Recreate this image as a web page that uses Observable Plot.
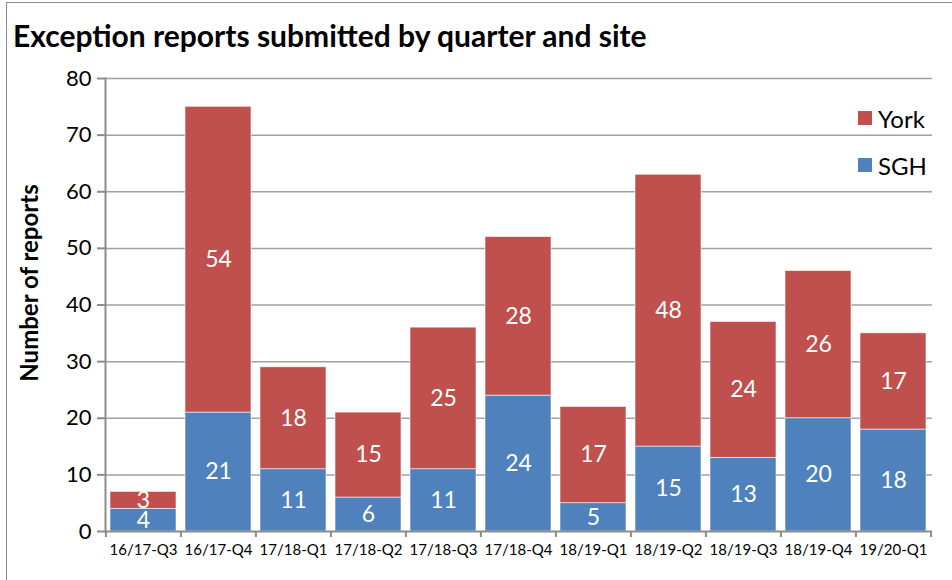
<!DOCTYPE html>
<html>
<head>
<meta charset="utf-8">
<script src="https://cdn.jsdelivr.net/npm/d3@7"></script>
<script src="https://cdn.jsdelivr.net/npm/@observablehq/plot@0.6"></script>
<style>
  html, body { margin: 0; padding: 0; background: #fff; }
  #wrap { position: relative; width: 952px; height: 580px; overflow: hidden; font-family: Lato, "Open Sans", sans-serif; }
  #frame { position: absolute; left: 6px; top: 2px; width: 1000px; height: 1000px; border-left: 1.5px solid #8c8c8c; border-top: 1.5px solid #8c8c8c; pointer-events: none; }
  #title { height: 60px; position: relative; }
  #title span { position: absolute; left: 13px; top: 20px; font-size: 30px; font-weight: 700; line-height: 1; color: #000; white-space: nowrap; }
  #legend { position: absolute; left: 858px; top: 104px; font-size: 24px; color: #000; }
  #legend div { display: flex; align-items: center; height: 28px; margin-bottom: 19px; }
  #legend i { display: inline-block; width: 14px; height: 14px; margin-right: 6px; }
  svg { display: block; }
</style>
</head>
<body>
<div id="wrap">
  <div id="title"><span>Exception reports submitted by quarter and site</span></div>
  <div id="chart"></div>
  <div id="legend"></div>
  <div id="frame"></div>
</div>
<script>
const quarters = ["16/17-Q3","16/17-Q4","17/18-Q1","17/18-Q2","17/18-Q3","17/18-Q4","18/19-Q1","18/19-Q2","18/19-Q3","18/19-Q4","19/20-Q1"];
const sgh  = [4, 21, 11, 6, 11, 24, 5, 15, 13, 20, 18];
const york = [3, 54, 18, 15, 25, 28, 17, 48, 24, 26, 17];
const sites = ["SGH", "York"];
const siteColors = ["#4F81BD", "#C0504D"];
const yTicks = [0, 10, 20, 30, 40, 50, 60, 70, 80];
const yLabel = "Number of reports";

const rows = [];
quarters.forEach((q, i) => {
  rows.push({quarter: q, site: "SGH", value: sgh[i]});
  rows.push({quarter: q, site: "York", value: york[i]});
});

const W = 952, H = 520, mL = 105, mR = 20, mT = 18, mB = 49;
const step = (W - mL - mR) / quarters.length;

const plot = Plot.plot({
  width: W,
  height: H,
  marginLeft: mL,
  marginRight: mR,
  marginTop: mT,
  marginBottom: mB,
  style: {fontFamily: "Lato, 'Open Sans', sans-serif", color: "#000", background: "#fff"},
  x: {domain: quarters, paddingInner: 0.12, paddingOuter: 0.06, label: null},
  y: {domain: [0, 80], ticks: yTicks, label: null},
  color: {domain: sites, range: siteColors},
  marks: [
    Plot.gridY(yTicks.filter(d => d > 0), {stroke: "#a0a0a0", strokeOpacity: 1, strokeWidth: 1.5}),
    Plot.barY(rows, Plot.stackY({x: "quarter", y: "value", fill: "site", order: sites, stroke: "#fff", strokeWidth: 0.8, strokeOpacity: 0.7})),
    Plot.text(rows, Plot.stackY({x: "quarter", y: "value", z: "site", order: sites, text: d => String(d.value), fill: "#fff", fontSize: 23})),
    Plot.ruleY([0], {stroke: "#8c8c8c", strokeWidth: 2}),
    Plot.frame({anchor: "left", stroke: "#8c8c8c", strokeWidth: 2}),
    Plot.ruleX(quarters, {x: d => d, y1: 0, y2: 0, insetBottom: -6, dx: -step / 2, stroke: "#8c8c8c", strokeWidth: 2}),
    Plot.ruleX([quarters[quarters.length - 1]], {x: d => d, y1: 0, y2: 0, insetBottom: -6, dx: step / 2, stroke: "#8c8c8c", strokeWidth: 2}),
    Plot.axisY({ticks: yTicks, tickSize: 8, tickPadding: 6, fontSize: 22, stroke: "#8c8c8c", strokeWidth: 2, label: null}),
    Plot.axisX({tickSize: 0, tickPadding: 13, fontSize: 15, label: null}),
    Plot.text([yLabel], {text: d => d, frameAnchor: "left", textAnchor: "middle", rotate: -90, dx: -75, dy: -22, fontSize: 24, fontWeight: "bold", fill: "#000"})
  ]
});

document.getElementById("chart").appendChild(plot);

const legend = document.getElementById("legend");
[["York", siteColors[1]], ["SGH", siteColors[0]]].forEach(([name, col]) => {
  const row = document.createElement("div");
  row.innerHTML = `<i style="background:${col}"></i><span>${name}</span>`;
  legend.appendChild(row);
});
</script>
</body>
</html>
